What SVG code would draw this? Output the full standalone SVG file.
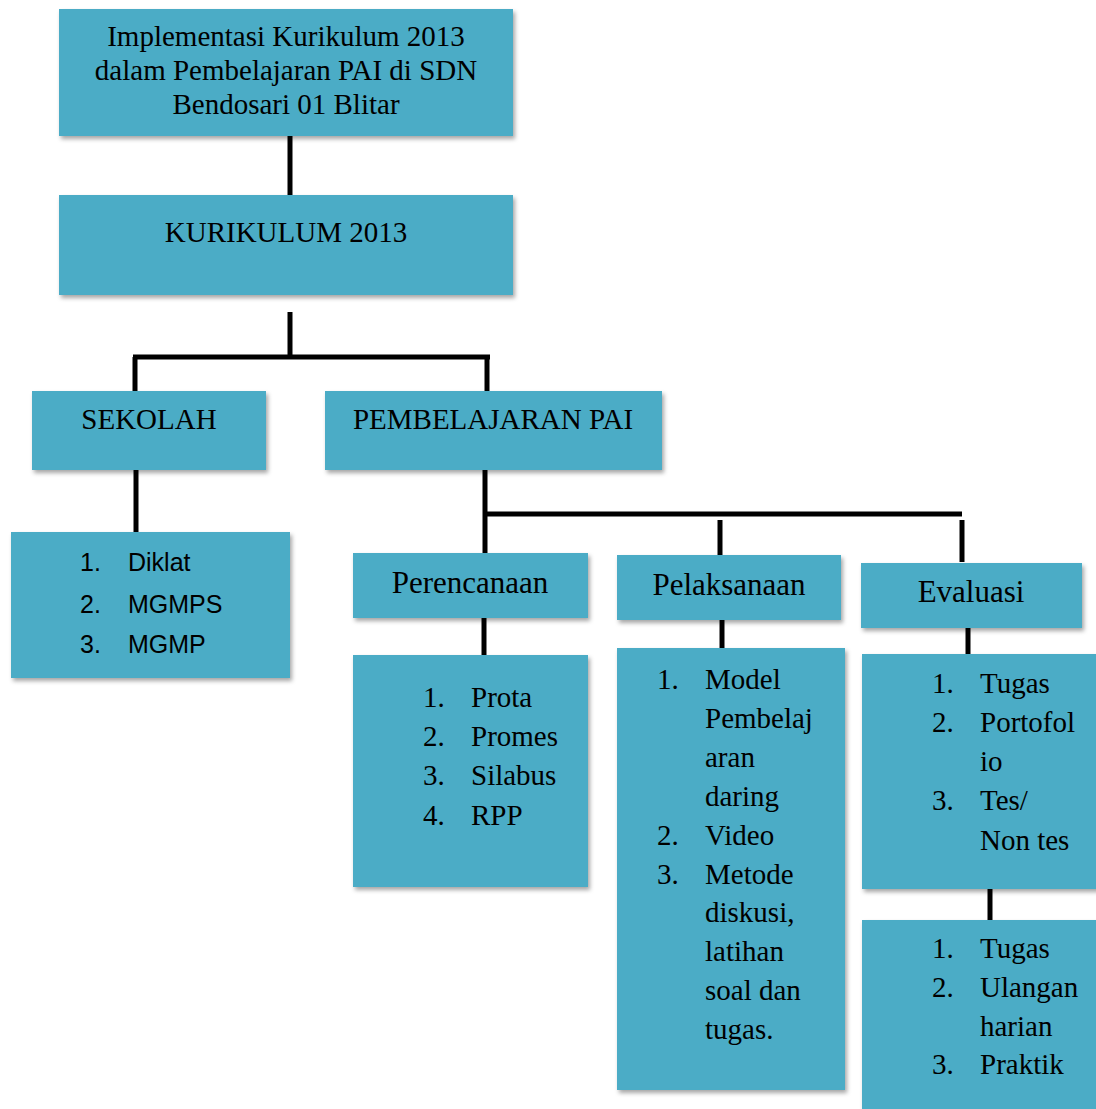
<svg xmlns="http://www.w3.org/2000/svg" width="1096" height="1109" viewBox="0 0 1096 1109">
<defs>
<filter id="sh" x="-10%" y="-10%" width="130%" height="130%">
<feDropShadow dx="2" dy="3" stdDeviation="2" flood-color="#000" flood-opacity="0.35"/>
</filter>
<style>
.box{fill:#4BACC6;filter:url(#sh)}
.t{font-family:"Liberation Serif","Times New Roman",serif;font-size:29px;fill:#000}
.h{font-family:"Liberation Serif","Times New Roman",serif;font-size:31px;fill:#000}
.s{font-family:"Liberation Sans",Arial,sans-serif;font-size:25px;fill:#000}
.c{stroke:#000;stroke-width:5;fill:none}
</style>
</defs>
<rect width="1096" height="1109" fill="#fff"/>
<g id="connectors">
<line class="c" x1="290" y1="136" x2="290" y2="195"/>
<line class="c" x1="290" y1="312" x2="290" y2="357"/>
<line class="c" x1="133" y1="357" x2="490" y2="357"/>
<line class="c" x1="135" y1="357" x2="135" y2="391"/>
<line class="c" x1="487" y1="357" x2="487" y2="392"/>
<line class="c" x1="136" y1="470" x2="136" y2="532"/>
<line class="c" x1="485" y1="470" x2="485" y2="553"/>
<line class="c" x1="485" y1="514" x2="962" y2="514"/>
<line class="c" x1="720" y1="520" x2="720" y2="555"/>
<line class="c" x1="962" y1="520" x2="962" y2="562"/>
<line class="c" x1="484" y1="618" x2="484" y2="655"/>
<line class="c" x1="722" y1="616" x2="722" y2="648"/>
<line class="c" x1="968" y1="627" x2="968" y2="661"/>
<line class="c" x1="990" y1="885" x2="990" y2="920"/>
</g>
<g id="root">
<rect class="box" x="59" y="9" width="454" height="127"/>
<text class="t" x="286" y="46" text-anchor="middle">Implementasi Kurikulum 2013</text>
<text class="t" x="286" y="80" text-anchor="middle">dalam Pembelajaran PAI di SDN</text>
<text class="t" x="286" y="114" text-anchor="middle">Bendosari 01 Blitar</text>
</g>
<g id="kurikulum">
<rect class="box" x="59" y="195" width="454" height="100"/>
<text class="t" x="286" y="242" text-anchor="middle">KURIKULUM 2013</text>
</g>
<g id="sekolah">
<rect class="box" x="32" y="391" width="234" height="79"/>
<text class="t" x="149" y="429" text-anchor="middle">SEKOLAH</text>
</g>
<g id="pembelajaran">
<rect class="box" x="325" y="391" width="337" height="79"/>
<text class="t" x="493" y="429" text-anchor="middle">PEMBELAJARAN PAI</text>
</g>
<g id="sekolah-list">
<rect class="box" x="11" y="532" width="279" height="146"/>
<text class="s" x="80" y="571">1.</text><text class="s" x="128" y="571">Diklat</text>
<text class="s" x="80" y="613">2.</text><text class="s" x="128" y="613">MGMPS</text>
<text class="s" x="80" y="653">3.</text><text class="s" x="128" y="653">MGMP</text>
</g>
<g id="perencanaan">
<rect class="box" x="353" y="553" width="235" height="65"/>
<text class="h" x="470" y="593" text-anchor="middle">Perencanaan</text>
</g>
<g id="pelaksanaan">
<rect class="box" x="617" y="555" width="224" height="65"/>
<text class="h" x="729" y="595" text-anchor="middle">Pelaksanaan</text>
</g>
<g id="evaluasi">
<rect class="box" x="861" y="563" width="221" height="65"/>
<text class="h" x="971" y="602" text-anchor="middle">Evaluasi</text>
</g>
<g id="perencanaan-list">
<rect class="box" x="353" y="655" width="235" height="232"/>
<text class="t" x="423" y="707">1.</text><text class="t" x="471" y="707">Prota</text>
<text class="t" x="423" y="746">2.</text><text class="t" x="471" y="746">Promes</text>
<text class="t" x="423" y="785">3.</text><text class="t" x="471" y="785">Silabus</text>
<text class="t" x="423" y="825">4.</text><text class="t" x="471" y="825">RPP</text>
</g>
<g id="pelaksanaan-list">
<rect class="box" x="617" y="648" width="228" height="442"/>
<text class="t" x="657" y="689">1.</text><text class="t" x="705" y="689">Model</text>
<text class="t" x="705" y="728">Pembelaj</text>
<text class="t" x="705" y="767">aran</text>
<text class="t" x="705" y="806">daring</text>
<text class="t" x="657" y="845">2.</text><text class="t" x="705" y="845">Video</text>
<text class="t" x="657" y="884">3.</text><text class="t" x="705" y="884">Metode</text>
<text class="t" x="705" y="922">diskusi,</text>
<text class="t" x="705" y="961">latihan</text>
<text class="t" x="705" y="1000">soal dan</text>
<text class="t" x="705" y="1039">tugas.</text>
</g>
<g id="evaluasi-list">
<rect class="box" x="862" y="654" width="240" height="235"/>
<text class="t" x="932" y="693">1.</text><text class="t" x="980" y="693">Tugas</text>
<text class="t" x="932" y="732">2.</text><text class="t" x="980" y="732">Portofol</text>
<text class="t" x="980" y="771">io</text>
<text class="t" x="932" y="810">3.</text><text class="t" x="980" y="810">Tes/</text>
<text class="t" x="980" y="850">Non tes</text>
</g>
<g id="evaluasi-list-2">
<rect class="box" x="862" y="920" width="240" height="195"/>
<text class="t" x="932" y="958">1.</text><text class="t" x="980" y="958">Tugas</text>
<text class="t" x="932" y="997">2.</text><text class="t" x="980" y="997">Ulangan</text>
<text class="t" x="980" y="1036">harian</text>
<text class="t" x="932" y="1074">3.</text><text class="t" x="980" y="1074">Praktik</text>
</g>
</svg>
